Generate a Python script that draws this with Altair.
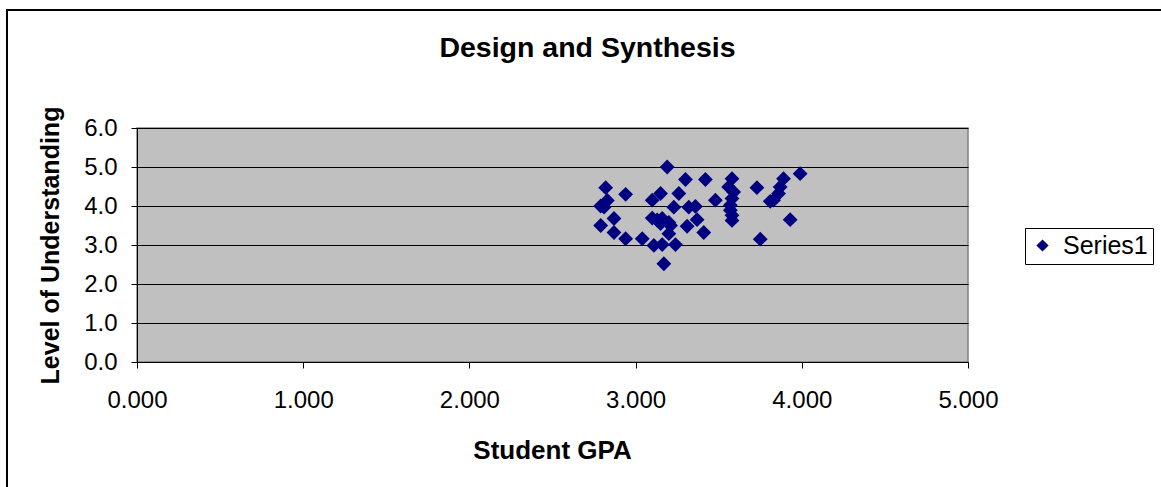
import altair as alt
import pandas as pd

gpa = [2.82, 2.94, 2.79, 2.83, 2.81, 2.87, 2.79, 2.87, 2.94, 3.04,
       3.10, 3.15, 3.10, 3.15, 3.11, 3.16, 3.17, 3.19, 3.30, 3.42,
       3.26, 3.23, 3.32, 3.36, 3.48, 3.16, 3.21, 3.20, 3.31, 3.37,
       3.41, 3.24, 3.58, 3.56, 3.59, 3.58, 3.57, 3.57, 3.58, 3.58,
       3.73, 3.99, 3.89, 3.87, 3.86, 3.83, 3.81, 3.93, 3.75, 3.13,
       3.20]
understanding = [4.47, 4.30, 4.00, 4.14, 3.97, 3.68, 3.50, 3.32, 3.16, 3.16,
                 4.15, 4.32, 3.69, 3.55, 2.99, 3.01, 2.52, 5.00, 4.68, 4.68,
                 4.32, 3.97, 3.97, 3.99, 4.15, 3.68, 3.50, 3.29, 3.48, 3.65,
                 3.32, 3.01, 4.70, 4.49, 4.36, 4.19, 4.02, 3.89, 3.76, 3.63,
                 4.47, 4.83, 4.70, 4.49, 4.32, 4.15, 4.12, 3.65, 3.15, 3.64,
                 3.58]
series = ["Series1"] * len(gpa)
x_ticks = [0, 1, 2, 3, 4, 5]
y_ticks = [0, 1, 2, 3, 4, 5, 6]

df = pd.DataFrame({"gpa": gpa, "und": understanding, "series": series})

points = alt.Chart(df).mark_point(shape="diamond", filled=True, opacity=1, size=220).encode(
    x=alt.X("gpa:Q", scale=alt.Scale(domain=[0, 5], nice=False, zero=False),
            axis=alt.Axis(values=x_ticks, format=".3f", title="Student GPA",
                          grid=False, tickSize=6, tickColor="black", domainColor="black",
                          labelFontSize=24, labelPadding=20, labelColor="black",
                          labelFlush=False, labelOverlap=False,
                          titleFontSize=26, titleFont="Liberation Sans", titleFontWeight="bold",
                          titleX=415, titleY=88, titleBaseline="middle", titleColor="black",
                          labelFont="Liberation Sans")),
    y=alt.Y("und:Q", scale=alt.Scale(domain=[0, 6], nice=False, zero=False),
            axis=alt.Axis(values=y_ticks, format=".1f", title="Level of Understanding",
                          grid=True, gridColor="black", gridWidth=1, gridOpacity=1,
                          tickSize=6, tickColor="black", domainColor="black",
                          labelFontSize=24, labelPadding=14, labelColor="black",
                          labelFont="Liberation Sans", labelFlush=False, labelOverlap=False,
                          titleFontSize=25, titleFont="Liberation Sans", titleFontWeight="bold",
                          titleAngle=-90, titleX=-87, titleY=117, titleBaseline="middle",
                          titleAlign="center", titleColor="black")),
    color=alt.Color("series:N", scale=alt.Scale(range=["#000080"]),
                    legend=alt.Legend(title=None, orient="none", legendX=888, legendY=100,
                                      strokeColor="black", fillColor="white", padding=5,
                                      symbolType="diamond", symbolSize=150,
                                      symbolStrokeWidth=0, labelFontSize=25,
                                      labelFont="Liberation Sans", labelColor="black",
                                      labelOffset=8)),
)

frame = alt.Chart(df).mark_rect(fill=None, stroke="black", strokeWidth=1.2).encode(
    x=alt.value(-130), x2=alt.value(1200), y=alt.value(-118), y2=alt.value(600)
)

chart = alt.layer(frame, points).properties(
    width=831, height=234,
    title=alt.TitleParams("Design and Synthesis", fontSize=28.5, font="Liberation Sans",
                          fontWeight="bold", anchor="middle", dx=35, offset=-76,
                          frame="group", baseline="alphabetic", color="black"),
    autosize=alt.AutoSizeParams(type="none"),
    padding={"left": 137, "top": 128, "right": 193, "bottom": 125},
).configure(
    background="white",
    view=alt.ViewConfig(fill="#C0C0C0", stroke="#808080", strokeWidth=1.5),
)

chart.save("out.html", embed_options={"renderer": "svg", "actions": False})
